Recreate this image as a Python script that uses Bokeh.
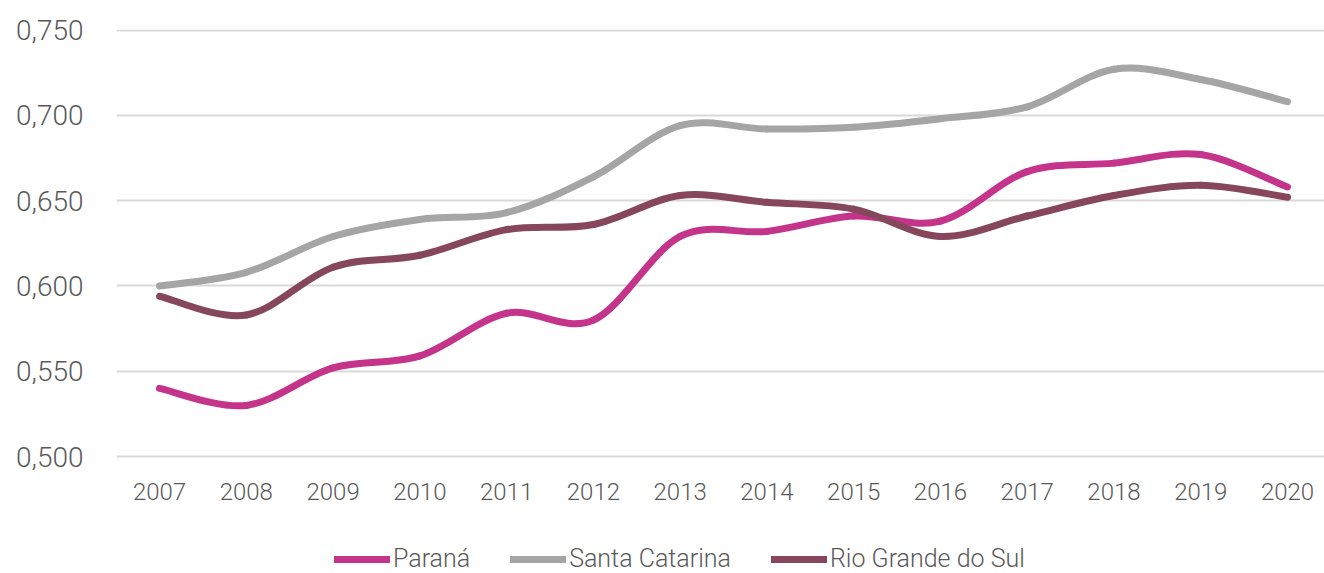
from bokeh.plotting import figure
from bokeh.models import Legend, LegendItem, FixedTicker, CustomJSTickFormatter, Range1d, ColumnDataSource
from bokeh.embed import file_html
from bokeh.resources import INLINE

years = [2007, 2008, 2009, 2010, 2011, 2012, 2013, 2014, 2015, 2016, 2017, 2018, 2019, 2020]
parana = [0.540, 0.530, 0.552, 0.559, 0.584, 0.580, 0.629, 0.632, 0.641, 0.638, 0.667, 0.672, 0.677, 0.658]
santa_catarina = [0.600, 0.608, 0.629, 0.639, 0.643, 0.664, 0.694, 0.692, 0.693, 0.698, 0.705, 0.727, 0.721, 0.708]
rio_grande_do_sul = [0.594, 0.583, 0.611, 0.618, 0.633, 0.636, 0.653, 0.649, 0.645, 0.629, 0.641, 0.653, 0.659, 0.652]
series_names = ["Paraná", "Santa Catarina", "Rio Grande do Sul"]
series_colors = ["#C4348A", "#A5A5A5", "#86475D"]
y_ticks = [0.50, 0.55, 0.60, 0.65, 0.70, 0.75]

FONT = "Roboto Light"
TXT = "#595959"


def bezier_source(xs, ys):
    n = len(xs)
    d = dict(x0=[], y0=[], x1=[], y1=[], cx0=[], cy0=[], cx1=[], cy1=[])
    for i in range(n - 1):
        xm, ym = (xs[i - 1], ys[i - 1]) if i > 0 else (xs[i], ys[i])
        xp, yp = (xs[i + 2], ys[i + 2]) if i + 2 < n else (xs[i + 1], ys[i + 1])
        d["x0"].append(xs[i]); d["y0"].append(ys[i])
        d["x1"].append(xs[i + 1]); d["y1"].append(ys[i + 1])
        d["cx0"].append(xs[i] + (xs[i + 1] - xm) / 6.0)
        d["cy0"].append(ys[i] + (ys[i + 1] - ym) / 6.0)
        d["cx1"].append(xs[i + 1] - (xp - xs[i]) / 6.0)
        d["cy1"].append(ys[i + 1] - (yp - ys[i]) / 6.0)
    return ColumnDataSource(d)


# frame spans y=29..573; 0.75 -> 29px, 0.50 -> 456px; extra room below holds the axis labels and legend
p = figure(width=1324, height=573, output_backend="svg", toolbar_location=None,
           x_range=Range1d(2006.504, 2020.426), y_range=Range1d(0.4315, 0.7503),
           min_border_left=116, min_border_right=0, min_border_top=29, min_border_bottom=0)
p.outline_line_color = None
p.background_fill_color = "white"
p.border_fill_color = "white"

p.xgrid.grid_line_color = None
p.ygrid.grid_line_color = "#D9D9D9"
p.ygrid.grid_line_width = 2

p.yaxis.ticker = FixedTicker(ticks=y_ticks)
p.yaxis.formatter = CustomJSTickFormatter(code="return tick.toFixed(3).replace('.', ',');")
p.xaxis.ticker = FixedTicker(ticks=years)
p.xaxis.major_label_overrides = {y: str(y) for y in years}
p.xaxis.fixed_location = y_ticks[0]
for ax in (p.xaxis, p.yaxis):
    ax.axis_line_color = None
    ax.major_tick_line_color = None
    ax.minor_tick_line_color = None
    ax.major_tick_out = 0
    ax.major_tick_in = 0
    ax.major_label_text_color = TXT
    ax.major_label_text_font = FONT
p.yaxis.major_label_text_font_size = "28px"
p.yaxis.major_label_standoff = 33
p.xaxis.major_label_text_font_size = "24px"
p.xaxis.major_label_standoff = 26

items = []
for name, vals, col in zip(series_names, [parana, santa_catarina, rio_grande_do_sul], series_colors):
    r = p.bezier(x0="x0", y0="y0", x1="x1", y1="y1", cx0="cx0", cy0="cy0", cx1="cx1", cy1="cy1",
                 source=bezier_source(years, vals), line_color=col, line_width=7, line_cap="round")
    items.append(LegendItem(label=name, renderers=[r]))

legend = Legend(items=items, orientation="horizontal", location=(218, 0),
                label_text_font=FONT, label_text_font_size="25px", label_text_color=TXT,
                glyph_width=56, glyph_height=20, label_standoff=3, spacing=40,
                padding=2, margin=0, border_line_color=None, background_fill_alpha=0)
p.add_layout(legend, "center")

open("out.html", "w").write(file_html(p, INLINE))
